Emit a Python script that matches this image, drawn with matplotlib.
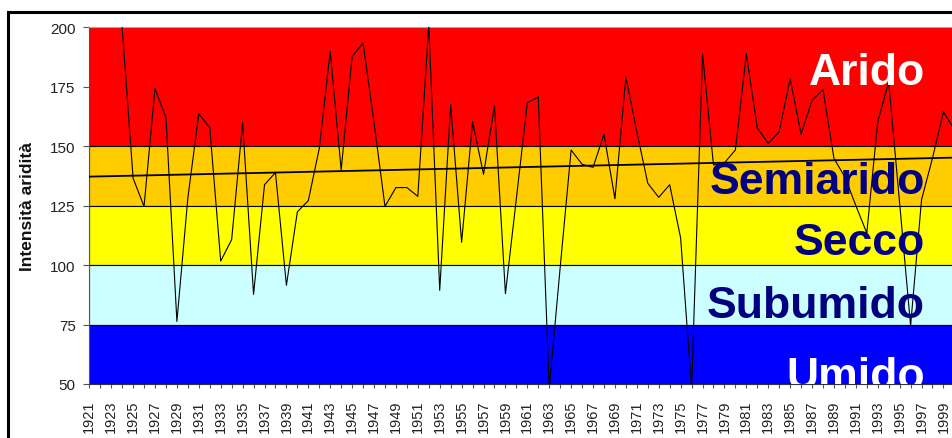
import numpy as np
import matplotlib
matplotlib.use("Agg")
import matplotlib.pyplot as plt
from matplotlib.lines import Line2D

plt.rcParams['font.family'] = ['Liberation Sans', 'DejaVu Sans']

# yearly aridity index (values above 200 / below 50 are clipped)
years = np.arange(1921, 2001)
aridity = [
    225, 230, 212, 200, 136.5, 124.7, 174.2, 162.1, 76.3, 128.2,
    163.7, 157.7, 101.7, 110.7, 159.8, 87.7, 133.8, 138.9, 91.5, 122.4,
    127.1, 149, 190, 140, 187.7, 193.4, 160, 124.7, 132.6, 132.6,
    128.9, 201, 89.4, 167.5, 109.6, 160.3, 138.2, 167, 88, 128,
    168.3, 170.7, 48, 99, 148.4, 142.4, 141.1, 155, 127.9, 179.1,
    156, 134.4, 128.5, 133.8, 111.4, 48, 188.8, 142.1, 143, 148.4,
    188.8, 157.7, 151.2, 156.1, 178.4, 155, 169.3, 173.8, 144.9, 137,
    125, 113.5, 160.3, 177, 126, 74.5, 127.5, 145, 164.4, 157,
]

# linear trend as drawn in the chart
trend_years = [1921, 2000]
trend_values = [137.2, 145.2]

# climate classes
band_limits = [(150, 200), (125, 150), (100, 125), (75, 100), (50, 75)]
band_colors = ['#FF0000', '#FFCC00', '#FFFF00', '#CCFFFF', '#0000FF']
band_names = ['Arido', 'Semiarido', 'Secco', 'Subumido', 'Umido']
name_colors = ['white', '#000080', '#000080', '#000080', 'white']
name_baselines = [176.2, 130.3, 104.7, 78.3, 48.4]

fig = plt.figure(figsize=(9.53, 4.39), dpi=100)
ax = fig.add_axes([89.3 / 953, 54 / 439, 865.1 / 953, 356.7 / 439])

for (lo, hi), c in zip(band_limits, band_colors):
    ax.axhspan(lo, hi, facecolor=c, edgecolor='black', linewidth=0.8, zorder=0)

ax.plot(years, aridity, color='black', linewidth=0.8, zorder=3)
ax.plot(trend_years, trend_values, color='black', linewidth=1.3, zorder=3)

for name, col, yb in zip(band_names, name_colors, name_baselines):
    ax.text(1997.3, yb, name, color=col, fontsize=32, fontweight='bold',
            ha='right', va='baseline', zorder=4, clip_on=True)

ax.set_xlim(1921, 2000)
ax.set_ylim(50, 200)
ax.set_yticks(np.arange(50, 201, 25))
ax.set_xticks(years)
ax.set_xticklabels([str(y) if (y - 1921) % 2 == 0 else '' for y in years],
                   rotation=90, fontsize=10.5)
ax.tick_params(axis='y', direction='out', length=4.3, width=0.8, pad=5.5,
               labelsize=11, colors='#555555', labelcolor='#222222')
ax.tick_params(axis='x', direction='out', length=3, width=0.8, pad=8,
               colors='#555555', labelcolor='#222222')

ax.spines['left'].set_color('#555555')
ax.spines['bottom'].set_color('#333333')
ax.spines['top'].set_color('#aaaaaa')
ax.spines['right'].set_visible(False)

ax.text(-0.0709, 0.5, 'Intensità aridità', transform=ax.transAxes,
        rotation=90, ha='center', va='center', fontsize=12.5,
        fontweight='bold', color='#111111')

# outer chart frame (only left and top edges are inside the picture)
fig.add_artist(Line2D([7.7 / 953, 7.7 / 953], [0, 1 - 12.7 / 439],
                      transform=fig.transFigure, color='black', linewidth=2.2))
fig.add_artist(Line2D([7.7 / 953, 1], [1 - 12.7 / 439, 1 - 12.7 / 439],
                      transform=fig.transFigure, color='black', linewidth=2.2))

fig.savefig('out.png', dpi=100)
